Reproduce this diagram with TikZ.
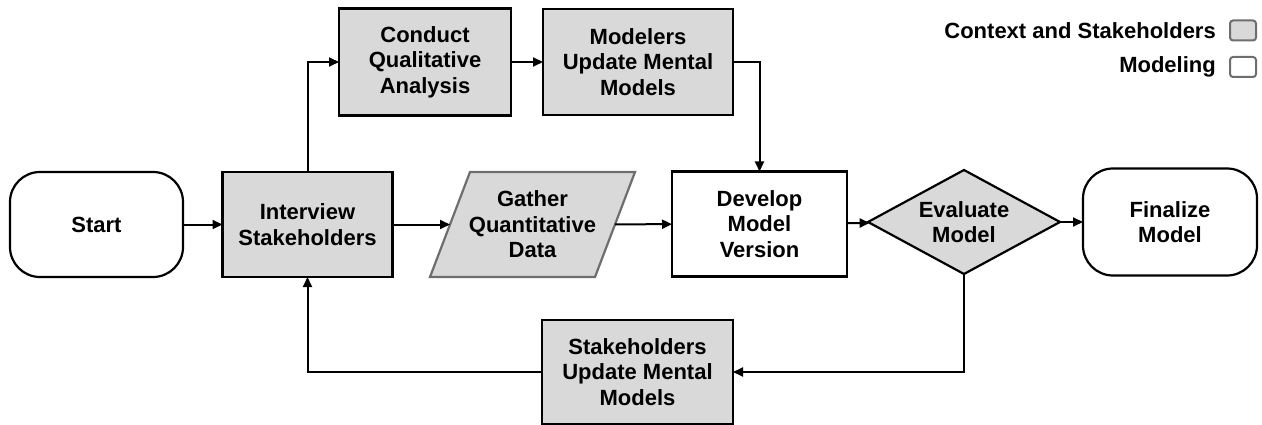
\documentclass[tikz,border=0pt]{standalone}
\usepackage{fontspec}
\setmainfont{Liberation Sans}
\usetikzlibrary{shapes.geometric,arrows.meta}
\definecolor{boxgray}{HTML}{D9D9D9}
\definecolor{edgegray}{HTML}{6E6E6E}
\tikzset{
  base/.style={draw, line width=2.2pt, align=center, inner sep=0pt, outer sep=0pt,
    font=\bfseries\fontsize{22}{25.5}\selectfont},
  ctx/.style={base, fill=boxgray},
  model/.style={base, fill=white},
  stepbox/.style={rectangle, minimum width=#1, minimum height=105pt},
  terminal/.style={base, fill=white, rectangle, rounded corners=30pt,
    minimum width=173pt, minimum height=105pt},
  flow/.style={line width=2pt, -{Triangle[length=10pt,width=9pt]}}
}
\begin{document}
\begin{tikzpicture}[x=1pt, y=-1pt]
  \useasboundingbox (0,0) rectangle (1262,425);
  % main row
  \node[terminal] (start) at (96.5,224.5) {Start};
  \node[ctx, stepbox=170pt] (interview) at (307.5,224.5) {Interview\\Stakeholders};
  % data box: slanted outline drawn round a plain node
  \fill[boxgray] (430,277) -- (470,172) -- (635,172) -- (595,277) -- cycle;
  \node[base, draw=none, stepbox=165pt] (gather) at (532.5,224.5) {Gather\\Quantitative\\Data};
  \draw[edgegray, line width=2.2pt, line join=miter]
    ([xshift=-20pt]gather.south west) -- ([xshift=20pt]gather.north west)
    -- ([xshift=20pt]gather.north east) -- ([xshift=-20pt]gather.south east) -- cycle;
  \node[model, stepbox=175pt] (develop) at (759.5,224) {Develop\\Model\\Version};
  \node[ctx, diamond, aspect=1.85, minimum width=192pt, minimum height=104pt]
    (evaluate) at (964,222) {Evaluate\\Model};
  \node[terminal, minimum width=174pt, minimum height=107pt] (finalize) at (1170,222) {Finalize\\Model};
  % upper and lower row
  \node[ctx, stepbox=172pt, minimum height=107pt] (conduct) at (425,62) {Conduct\\Qualitative\\Analysis};
  \node[ctx, stepbox=190pt, minimum height=106pt] (modelers) at (638,62) {Modelers\\Update Mental\\Models};
  \node[ctx, stepbox=191pt, minimum height=104pt] (stake) at (637.5,372) {Stakeholders\\Update Mental\\Models};
  % connectors
  \draw[flow] (start) -- (interview);
  \draw[flow] (interview) -- (gather);
  \draw[flow] (gather) -- (develop);
  \draw[flow] (develop) -- (evaluate);
  \draw[flow] (evaluate) -- (finalize);
  \draw[flow] (interview.north) |- (conduct.west);
  \draw[flow] (conduct) -- (modelers);
  \draw[flow] (modelers.east) -| (develop.north);
  \draw[flow] (evaluate.south) |- (stake.east);
  \draw[flow] (stake.west) -| (interview.south);
  % legend
  \foreach \name/\fillc/\y/\txt in {legctx/boxgray/30.5/Context and Stakeholders, legmod/white/67/Modeling} {
    \node[draw=edgegray, fill=\fillc, line width=2pt, rounded corners=3pt,
      minimum width=26pt, minimum height=20pt] (\name) at (1243,\y) {};
    \node[anchor=east, inner sep=0pt, font=\bfseries\fontsize{22}{25.5}\selectfont]
      (\name txt) at ([xshift=-13pt]\name.west) {\txt};
  }
\end{tikzpicture}
\end{document}
